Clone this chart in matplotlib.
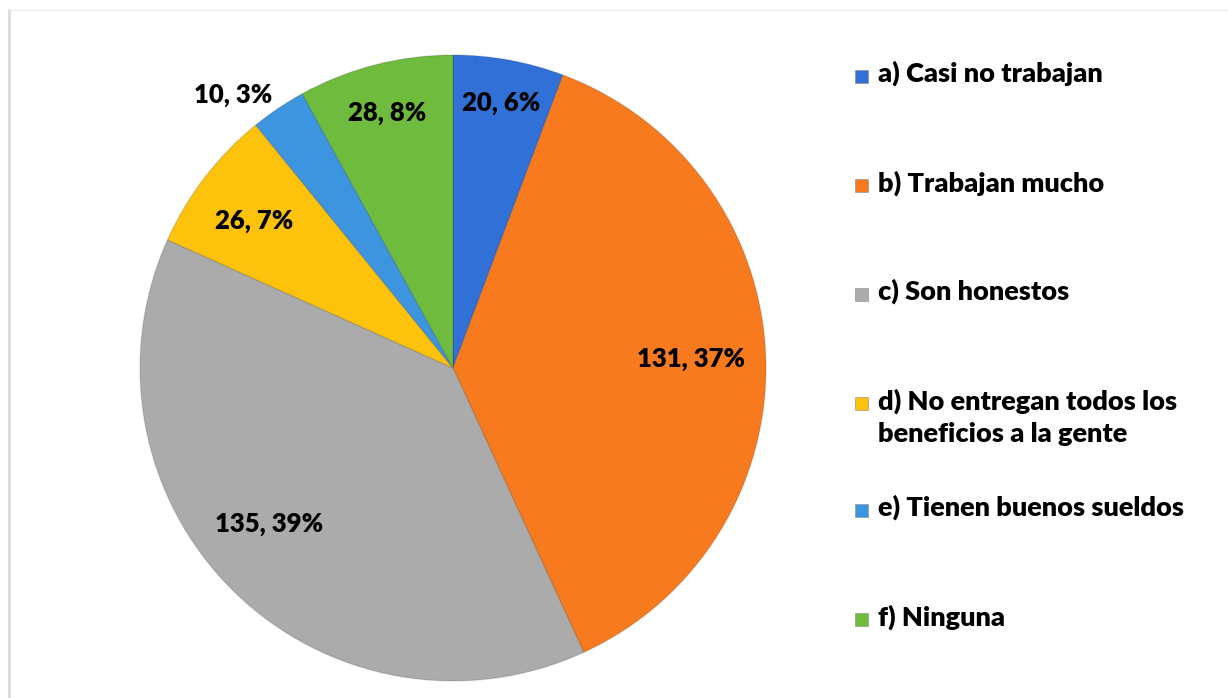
import numpy as np
import matplotlib
matplotlib.use('agg')
import matplotlib.pyplot as plt
from matplotlib.patches import Rectangle
from matplotlib.lines import Line2D

# data
categories = ['a) Casi no trabajan', 'b) Trabajan mucho', 'c) Son honestos',
              'd) No entregan todos los\nbeneficios a la gente',
              'e) Tienen buenos sueldos', 'f) Ninguna']
counts = [20, 131, 135, 26, 10, 28]
percents = [6, 37, 39, 7, 3, 8]

colors = ['#3170D6', '#F77A1E', '#ABABAB', '#FDC20C', '#3C95DE', '#6FBB3D']
label_r = [0.86, 0.76, 0.77, 0.79, 1.12, 0.84]
label_shift = [0, 0, -5, 1, 5, 0]   # small angular nudges (deg)

plt.rcParams['font.family'] = ['Lato', 'DejaVu Sans']

fig = plt.figure(figsize=(12.28, 6.98), dpi=100)
W, H = 1228, 698

# faint chart-area border
fig.add_artist(Line2D([9 / W, 9 / W], [0, 1 - 10 / H], color='#d6d6d6', lw=1.8))
fig.add_artist(Line2D([9 / W, 1], [1 - 10 / H, 1 - 10 / H], color='#eeeeee', lw=1.0))

ax = fig.add_axes([140 / W, 17 / H, 626 / W, 626 / H])
wedges, _ = ax.pie(counts, colors=colors, startangle=90, counterclock=False,
                   radius=1.0, wedgeprops=dict(edgecolor='none', linewidth=0))
# thin darker outline to hint at the bevel
for w, c in zip(wedges, colors):
    w.set_edgecolor((0, 0, 0, 0.12))
    w.set_linewidth(1.0)

for w, n, p, r, s in zip(wedges, counts, percents, label_r, label_shift):
    ang = np.deg2rad((w.theta1 + w.theta2) / 2 + s)
    ax.text(r * np.cos(ang), r * np.sin(ang), f'{n}, {p}%', ha='center', va='center',
            fontsize=18.5, fontweight='heavy', color='black')
ax.set_xlim(-1.0, 1.0)
ax.set_ylim(-1.0, 1.0)
ax.set_aspect('equal')
ax.axis('off')

# legend drawn by hand to match the spacing
leg_y = [76, 185, 294, 403, 510, 619]
for y, c, lab in zip(leg_y, colors, categories):
    fig.add_artist(Rectangle((855 / W, 1 - (y + 7) / H), 13 / W, 13 / H,
                             facecolor=c, edgecolor='#888888', lw=0.4,
                             transform=fig.transFigure))
    fig.text(878 / W, 1 - (y - 15) / H, lab, ha='left', va='top', fontsize=19.5,
             fontweight='heavy', color='black', linespacing=1.45)

fig.savefig('out.png', dpi=100)
